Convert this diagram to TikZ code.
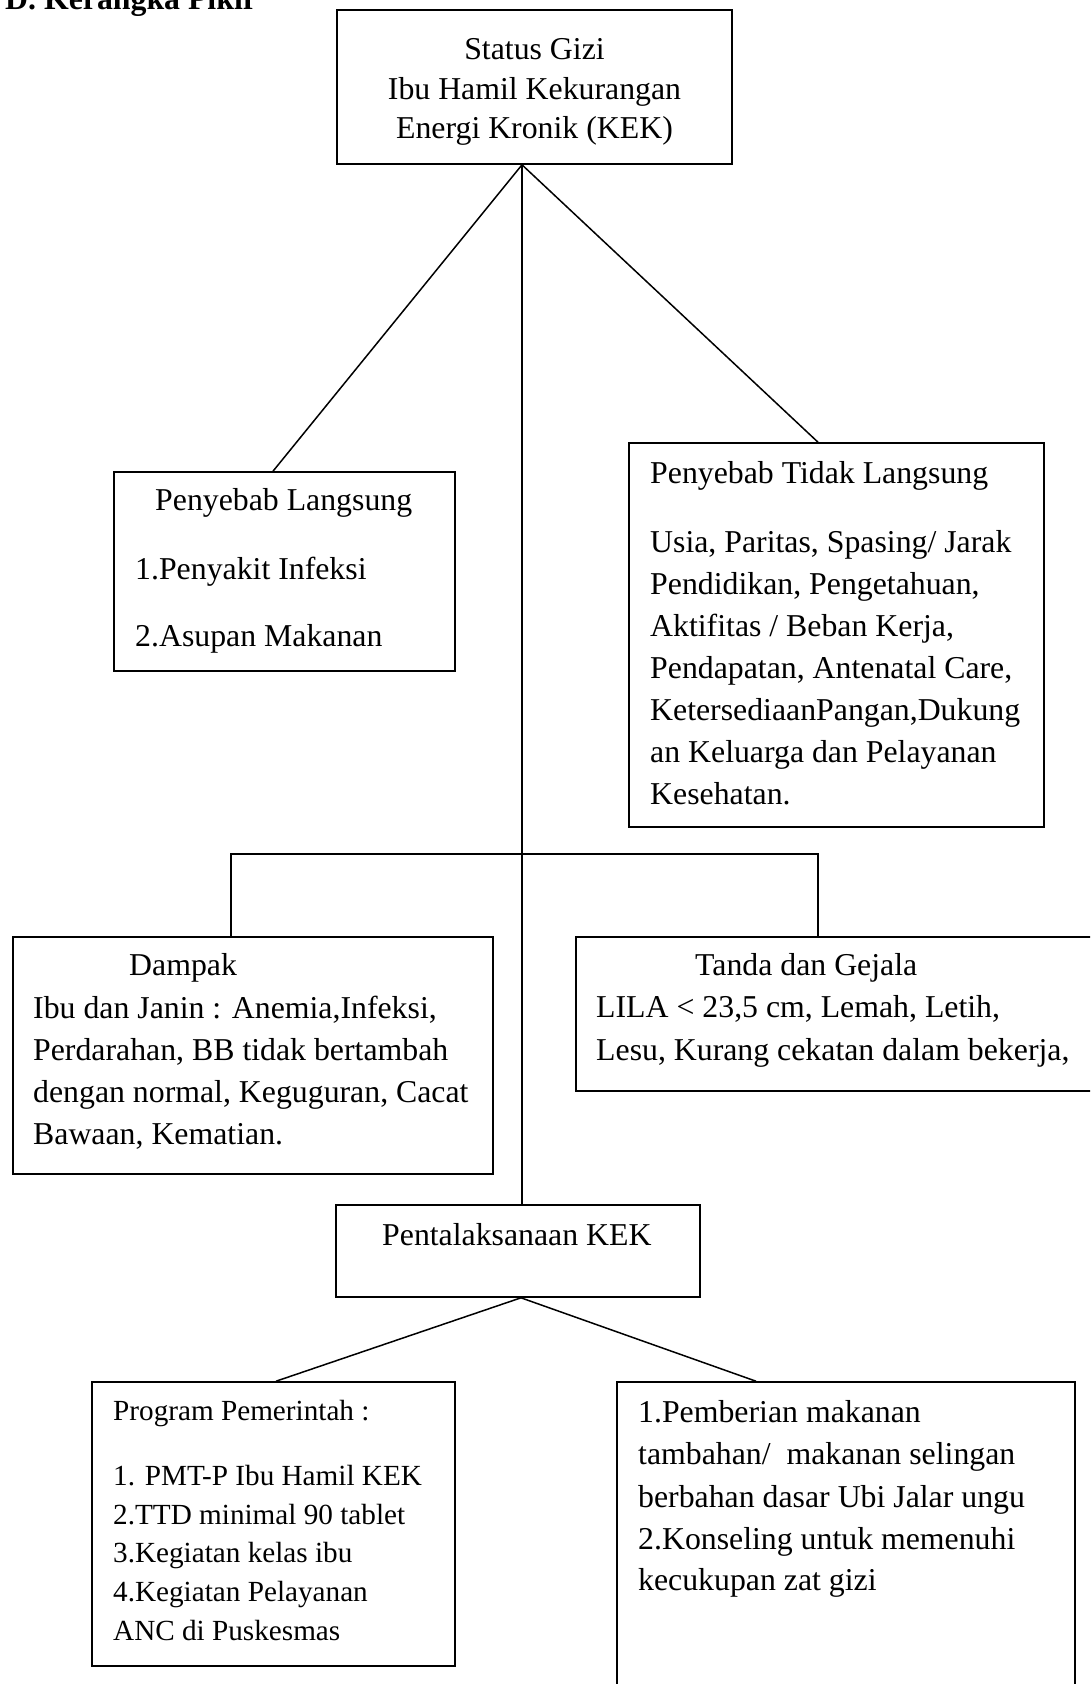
\documentclass[tikz,border=0pt]{standalone}
\usepackage{fontspec}
\setmainfont{Liberation Serif}
\newcommand\fA{\fontsize{31.8}{40}\selectfont}
\newcommand\fB{\fontsize{29.2}{37}\selectfont}
\begin{document}
\begin{tikzpicture}[x=1pt,y=-1pt,
  boxy/.style={draw, line width=1.6pt, inner sep=0pt},
  conn/.style={draw, line width=1.5pt},
  txt/.style={anchor=base west, inner sep=0pt, font=\fA},
  txtc/.style={anchor=base, inner sep=0pt, font=\fA},
  txts/.style={anchor=base west, inner sep=0pt, font=\fB}]
\useasboundingbox (0,0) rectangle (1090,1684);
\clip (0,0) rectangle (1090,1684);
\fill[white] (0,0) rectangle (1090,1684);

% title
\node[txt, font=\fA\bfseries] (title) at (5,9) {D. Kerangka Pikir};

% boxes
\node[boxy, minimum width=395pt, minimum height=154pt] (top) at (534.5,87) {};
\node[boxy, minimum width=341pt, minimum height=199pt] (pl) at (284.5,571.5) {};
\node[boxy, minimum width=415pt, minimum height=384pt] (tl) at (836.5,635) {};
\node[boxy, minimum width=480pt, minimum height=237pt] (dp) at (253,1055.5) {};
\node[boxy, minimum width=524pt, minimum height=154pt] (tg) at (838,1014) {};
\node[boxy, minimum width=364pt, minimum height=92pt] (pk) at (518,1251) {};
\node[boxy, minimum width=363pt, minimum height=284pt] (pp) at (273.5,1524) {};
\node[boxy, minimum width=458pt, minimum height=318pt] (rb) at (846,1541) {};

% connectors
\draw[conn] ([xshift=-12.5pt]top.south) -- ([xshift=-11.5pt]pl.north);
\draw[conn] ([xshift=-12.5pt]top.south) -- ([xshift=-18.5pt]tl.north);
\draw[conn] ([xshift=-12.5pt]top.south) -- ([xshift=4pt]pk.north);
\coordinate (busL) at (231,854);
\coordinate (busR) at (818,854);
\draw[conn] (dp.north -| busL) -- (busL) -- (busR) -- (tg.north -| busR);
\draw[conn] ([xshift=3pt]pk.south) -- ([xshift=2.5pt]pp.north);
\draw[conn] ([xshift=3pt]pk.south) -- ([xshift=-90pt]rb.north);

% top box text
\node[txtc] (t1) at (534.5,59) {Status Gizi};
\node[txtc] (t2) at (534.5,99) {Ibu Hamil Kekurangan};
\node[txtc] (t3) at (534.5,138) {Energi Kronik (KEK)};

% penyebab langsung
\node[txt] (pl1) at (155,510) {Penyebab Langsung};
\node[txt] (pl2) at (135,579) {1.Penyakit Infeksi};
\node[txt] (pl3) at (135,646) {2.Asupan Makanan};

% penyebab tidak langsung
\node[txt] (tl0) at (650,483) {Penyebab Tidak Langsung};
\node[txt] (tl1) at (650,552) {Usia, Paritas, Spasing/ Jarak};
\node[txt] (tl2) at (650,594) {Pendidikan, Pengetahuan,};
\node[txt] (tl3) at (650,636) {Aktifitas / Beban Kerja,};
\node[txt] (tl4) at (650,678) {Pendapatan, Antenatal Care,};
\node[txt] (tl5) at (650,720) {KetersediaanPangan,Dukung};
\node[txt] (tl6) at (650,762) {an Keluarga dan Pelayanan};
\node[txt] (tl7) at (650,804) {Kesehatan.};

% dampak
\node[txt] (dp0) at (129,975) {Dampak};
\node[txt] (dp1) at (33,1018) {Ibu dan Janin : Anemia,Infeksi,};
\node[txt] (dp2) at (33,1060) {Perdarahan, BB tidak bertambah};
\node[txt] (dp3) at (33,1102) {dengan normal, Keguguran, Cacat};
\node[txt] (dp4) at (33,1144) {Bawaan, Kematian.};

% tanda dan gejala
\node[txt] (tg0) at (695,975) {Tanda dan Gejala};
\node[txt] (tg1) at (596,1017) {LILA {<} 23,5 cm, Lemah, Letih,};
\node[txt] (tg2) at (596,1060) {Lesu, Kurang cekatan dalam bekerja,};

% pentalaksanaan
\node[txt] (pk0) at (382,1245) {Pentalaksanaan KEK};

% program pemerintah
\node[txts] (pp0) at (113,1420) {Program Pemerintah :};
\node[txts] (pp1) at (113,1485) {1. PMT-P Ibu Hamil KEK};
\node[txts] (pp2) at (113,1524) {2.TTD minimal 90 tablet};
\node[txts] (pp3) at (113,1562) {3.Kegiatan kelas ibu};
\node[txts] (pp4) at (113,1601) {4.Kegiatan Pelayanan};
\node[txts] (pp5) at (113,1640) {ANC di Puskesmas};

% right box
\node[txt] (rb1) at (638,1422) {1.Pemberian makanan};
\node[txt] (rb2) at (638,1464) {tambahan/\ \ makanan selingan};
\node[txt] (rb3) at (638,1507) {berbahan dasar Ubi Jalar ungu};
\node[txt] (rb4) at (638,1549) {2.Konseling untuk memenuhi};
\node[txt] (rb5) at (638,1590) {kecukupan zat gizi};
\end{tikzpicture}
\end{document}
